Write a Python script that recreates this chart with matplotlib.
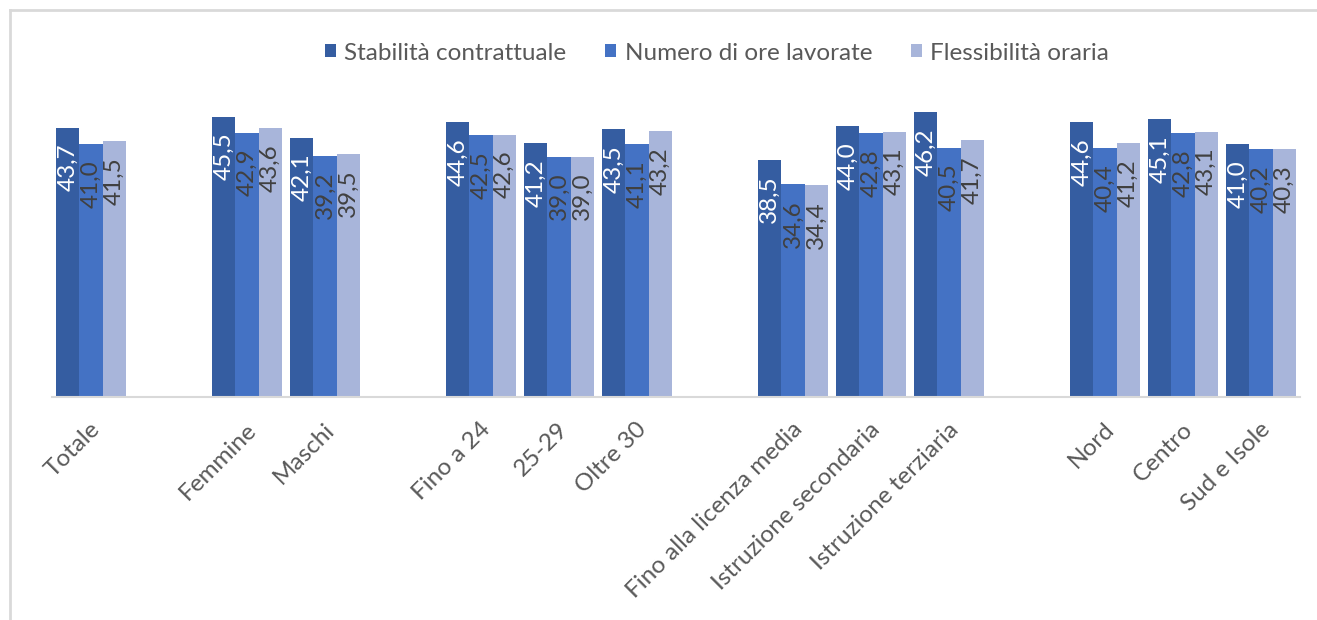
import matplotlib.pyplot as plt
from matplotlib.lines import Line2D
from matplotlib.transforms import ScaledTranslation
import numpy as np

plt.rcParams['font.family'] = ['Lato', 'DejaVu Sans']

categories = ["Totale", "Femmine", "Maschi", "Fino a 24", "25-29", "Oltre 30",
              "Fino alla licenza media", "Istruzione secondaria", "Istruzione terziaria",
              "Nord", "Centro", "Sud e Isole"]
# which block each category belongs to (an empty slot separates the blocks)
groups = [0, 1, 1, 2, 2, 2, 3, 3, 3, 4, 4, 4]

series_names = ["Stabilità contrattuale", "Numero di ore lavorate", "Flessibilità oraria"]
stabilita = [43.7, 45.5, 42.1, 44.6, 41.2, 43.5, 38.5, 44.0, 46.2, 44.6, 45.1, 41.0]
numero_ore = [41.0, 42.9, 39.2, 42.5, 39.0, 41.1, 34.6, 42.8, 40.5, 40.4, 42.8, 40.2]
flessibilita = [41.5, 43.6, 39.5, 42.6, 39.0, 43.2, 34.4, 43.1, 41.7, 41.2, 43.1, 40.3]

colors = ["#355DA1", "#4472C4", "#A8B5DA"]
label_colors = ["white", "#404040", "#404040"]

fig = plt.figure(figsize=(13.17, 6.2), dpi=100)
ax = fig.add_axes([52 / 1317, (620 - 397) / 620, 1248 / 1317, 308 / 620])

x = np.arange(len(categories)) + np.array(groups)
width = 0.9 / 3

for i, (vals, name) in enumerate(zip([stabilita, numero_ore, flessibilita], series_names)):
    pos = x + (i - 1) * width
    bars = ax.bar(pos, vals, width, color=colors[i], label=name)
    for b, v in zip(bars, vals):
        ax.text(b.get_x() + b.get_width() / 2, v - 2.6, f"{v:.1f}".replace(".", ","),
                rotation=90, ha="center", va="top", fontsize=17.5,
                color=label_colors[i])

ax.set_xlim(-0.5, x[-1] + 0.5)
ax.set_ylim(0, 50)
ax.set_yticks([])
ax.set_xticks(x)
ax.set_xticklabels(categories, rotation=45, ha="right", va="center",
                   rotation_mode="anchor", fontsize=17.5, color="#595959")
ax.tick_params(axis="x", length=0, pad=21)
shift = ScaledTranslation(6 / 100, 0, fig.dpi_scale_trans)
for lbl in ax.get_xticklabels():
    lbl.set_transform(lbl.get_transform() + shift)
for s in ["top", "right", "left"]:
    ax.spines[s].set_visible(False)
ax.spines["bottom"].set_color("#D9D9D9")
ax.spines["bottom"].set_linewidth(1.5)

ax.legend(loc="center", bbox_to_anchor=(717 / 1317, 1 - 53 / 620),
          bbox_transform=fig.transFigure, ncol=3, frameon=False, fontsize=17.5,
          handlelength=0.45, handleheight=0.45, handletextpad=0.35, columnspacing=1.6,
          labelcolor="#595959")

# chart area border (only top and left edges visible)
fig.add_artist(Line2D([10 / 1317, 1], [1 - 10 / 620, 1 - 10 / 620], color="#D9D9D9", lw=2))
fig.add_artist(Line2D([10 / 1317, 10 / 1317], [0, 1 - 10 / 620], color="#D9D9D9", lw=2))

fig.savefig("out.png", dpi=100)
